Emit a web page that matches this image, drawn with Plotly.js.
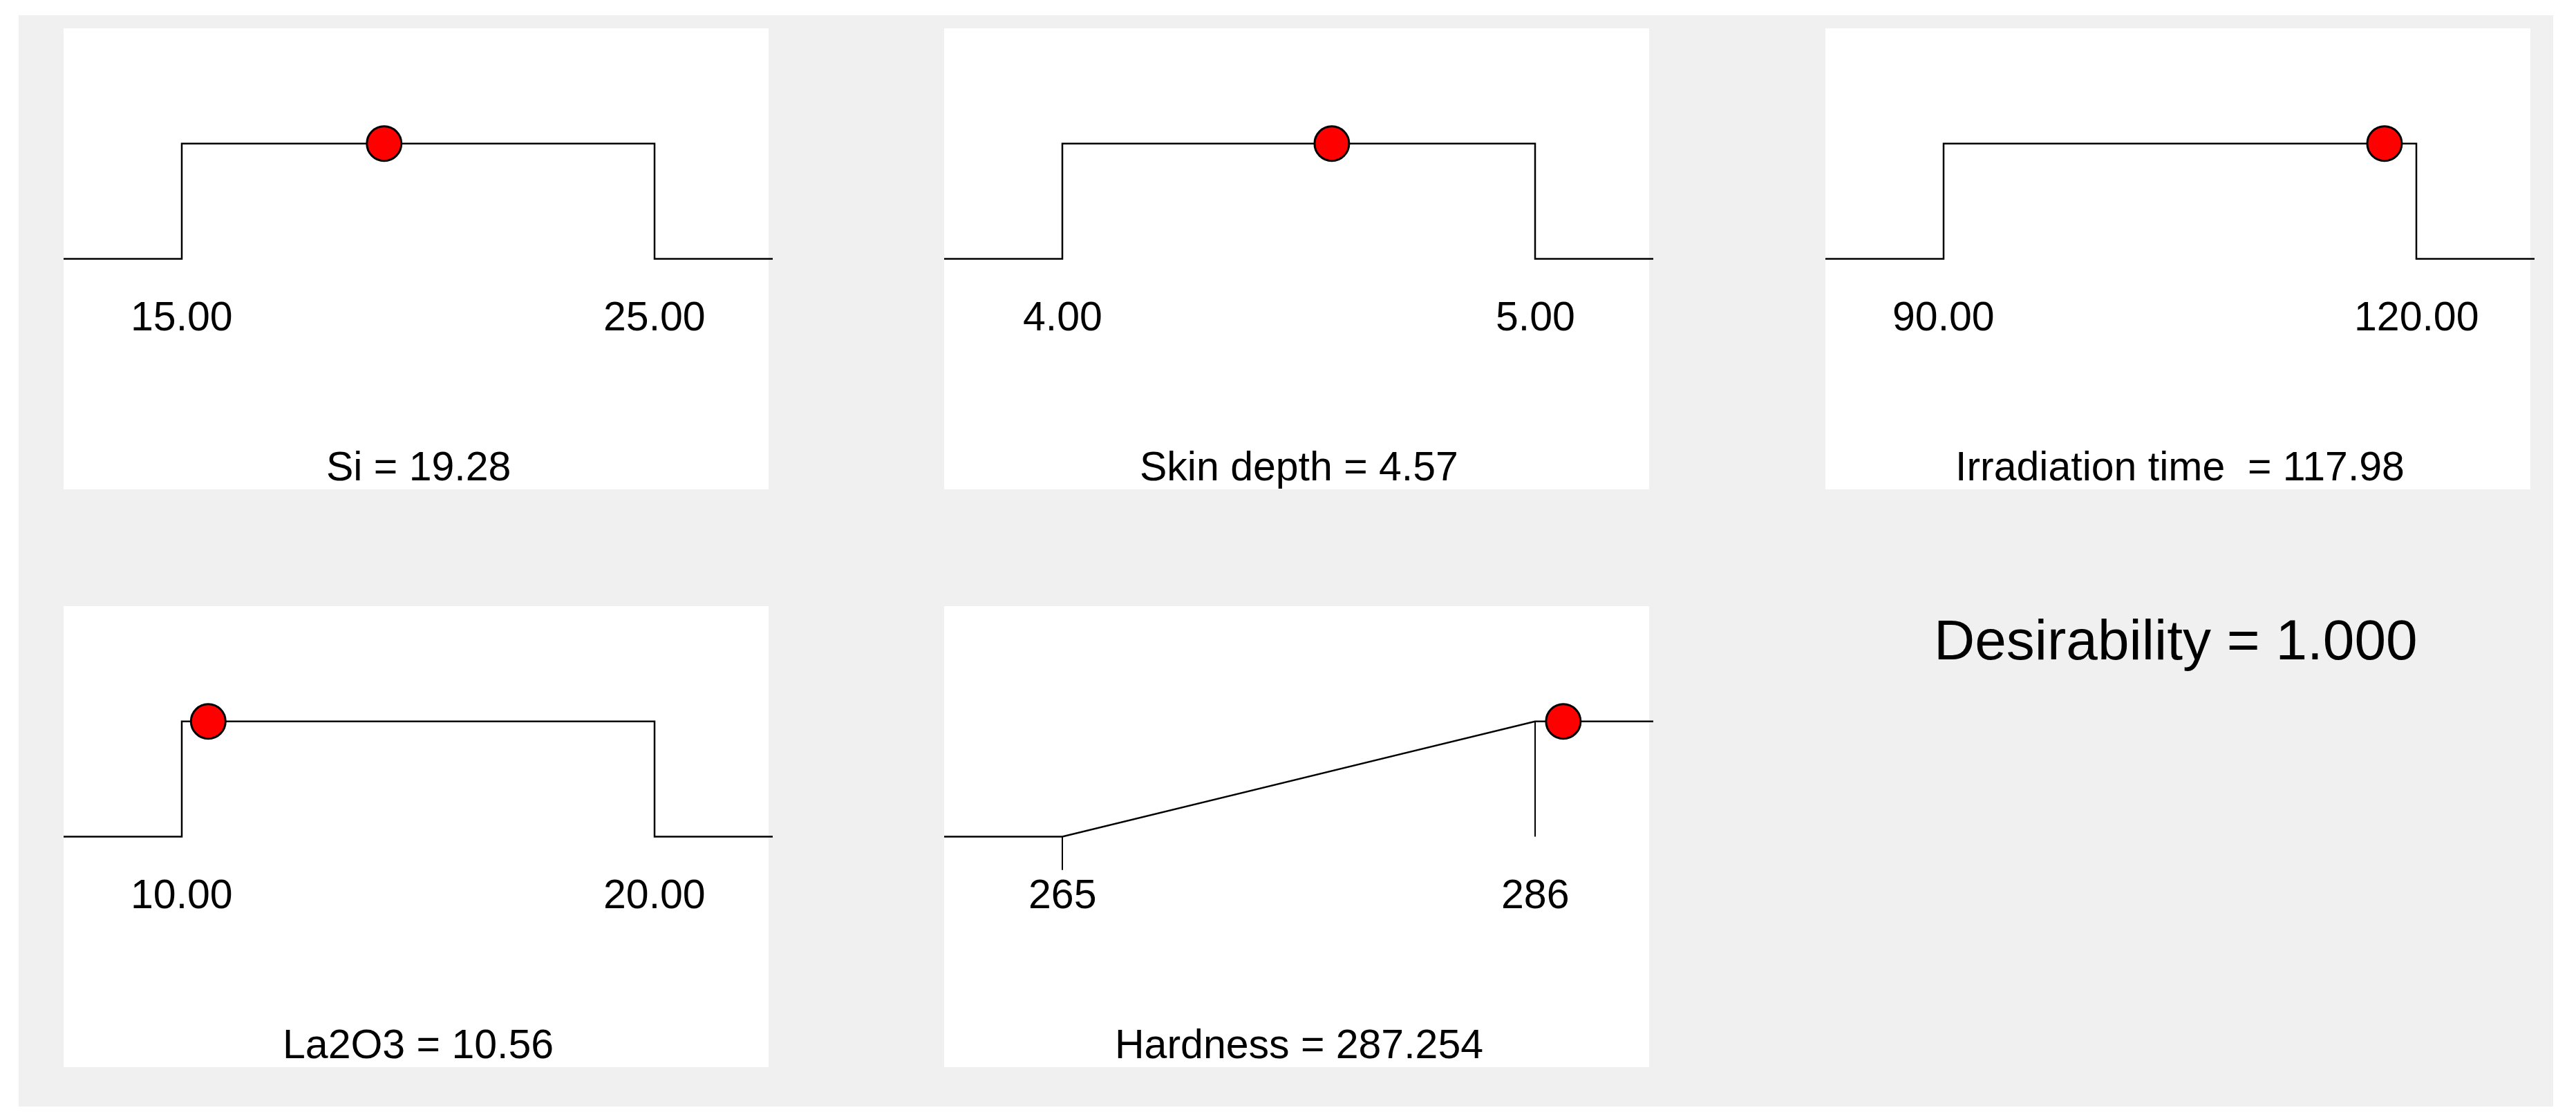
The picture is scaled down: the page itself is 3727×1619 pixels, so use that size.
<!DOCTYPE html>
<html>
<head>
<meta charset="utf-8">
<script src="https://cdn.plot.ly/plotly-3.0.1.min.js"></script>
<style>
  html, body { margin: 0; padding: 0; background: #ffffff; }
  #chart { width: 3727px; height: 1619px; }
</style>
</head>
<body>
<div id="chart"></div>
<script>
// Desirability ramps: one panel per factor / response
const names = ['Si', 'Skin depth', 'Irradiation time\u00a0', 'La2O3', 'Hardness'];
const lows = [15, 4, 90, 10, 265];
const highs = [25, 5, 120, 20, 286];
const optimum = [19.28, 4.57, 117.98, 10.56, 287.254];
const optimumText = ['19.28', '4.57', '117.98', '10.56', '287.254'];
const lowLabels = ['15.00', '4.00', '90.00', '10.00', '265'];
const highLabels = ['25.00', '5.00', '120.00', '20.00', '286'];
const goals = ['range', 'range', 'range', 'range', 'maximize'];
const desirability = 1.000;

const W = 3727, H = 1619;
const FONT = 'Liberation Sans, Arial, sans-serif';

// panel boxes in pixels (left, top)
const panelLeft = [92, 1366, 2641, 92, 1366];
const panelTop = [41, 41, 41, 877, 877];
const panelW = 1020, panelH = 667;
const lineW = 1026; // the curve runs a little past the white box

const px = v => v / W;
const py = v => 1 - v / H;

const traces = [];
const annotations = [];
const shapes = [];
const layout = {
    width: W,
    height: H,
    margin: { l: 0, r: 0, t: 0, b: 0 },
    paper_bgcolor: '#ffffff',
    plot_bgcolor: 'rgba(0,0,0,0)',
    showlegend: false,
    font: { family: FONT, color: '#000000' }
};

// grey frame behind everything
shapes.push({
    type: 'rect', xref: 'paper', yref: 'paper', layer: 'below',
    x0: px(27), x1: px(3694), y0: py(1601), y1: py(22),
    fillcolor: '#f0f0f0', line: { width: 0 }
});

names.forEach((name, i) => {
    const n = i + 1;
    const xa = 'x' + (n === 1 ? '' : n);
    const ya = 'y' + (n === 1 ? '' : n);
    const lo = lows[i], hi = highs[i], d = hi - lo;
    const rmin = lo - 0.25 * d, rmax = hi + 0.25 * d;

    layout['xaxis' + (n === 1 ? '' : n)] = {
        domain: [px(panelLeft[i]), px(panelLeft[i] + lineW)],
        range: [rmin, rmax], visible: false, fixedrange: true
    };
    layout['yaxis' + (n === 1 ? '' : n)] = {
        domain: [py(panelTop[i] + panelH), py(panelTop[i])],
        range: [-2, 2], visible: false, fixedrange: true
    };

    shapes.push({
        type: 'rect', xref: 'paper', yref: 'paper', layer: 'below',
        x0: px(panelLeft[i]), x1: px(panelLeft[i] + panelW),
        y0: py(panelTop[i] + panelH), y1: py(panelTop[i]),
        fillcolor: '#ffffff', line: { width: 0 }
    });

    let cx, cy;
    if (goals[i] === 'range') {
        cx = [rmin, lo, lo, hi, hi, rmax];
        cy = [0, 0, 1, 1, 0, 0];
    } else {
        cx = [rmin, lo, hi, rmax];
        cy = [0, 0, 1, 1];
        // limit ticks of the ramp
        traces.push({
            x: [lo, lo, null, hi, hi], y: [0, -0.29, null, 1, 0],
            xaxis: xa, yaxis: ya, mode: 'lines', hoverinfo: 'skip',
            line: { color: '#000000', width: 2 }
        });
    }
    traces.push({
        x: cx, y: cy, xaxis: xa, yaxis: ya, mode: 'lines', hoverinfo: 'skip',
        line: { color: '#000000', width: 2.5 }
    });
    traces.push({
        x: [optimum[i]], y: [1], xaxis: xa, yaxis: ya, mode: 'markers',
        cliponaxis: false,
        marker: { symbol: 'circle', size: 50, color: '#ff0000', line: { color: '#000000', width: 3 } }
    });

    const tickFont = { family: FONT, size: 59, color: '#000000' };
    const base = { xref: xa, yref: ya, showarrow: false, xanchor: 'center', yanchor: 'middle', font: tickFont };
    annotations.push(Object.assign({}, base, { x: lo, y: -0.5, text: lowLabels[i] }));
    annotations.push(Object.assign({}, base, { x: hi, y: -0.5, text: highLabels[i] }));
    annotations.push(Object.assign({}, base, {
        x: (lo + hi) / 2, y: -1.8, text: name + ' = ' + optimumText[i]
    }));
});

annotations.push({
    xref: 'paper', yref: 'paper', x: px(3148), y: py(925),
    xanchor: 'center', yanchor: 'middle',
    text: 'Desirability = ' + desirability.toFixed(3), showarrow: false,
    font: { family: FONT, size: 82, color: '#000000' }
});

layout.shapes = shapes;
layout.annotations = annotations;

Plotly.newPlot('chart', traces, layout, { displayModeBar: false, staticPlot: true });
</script>
</body>
</html>
